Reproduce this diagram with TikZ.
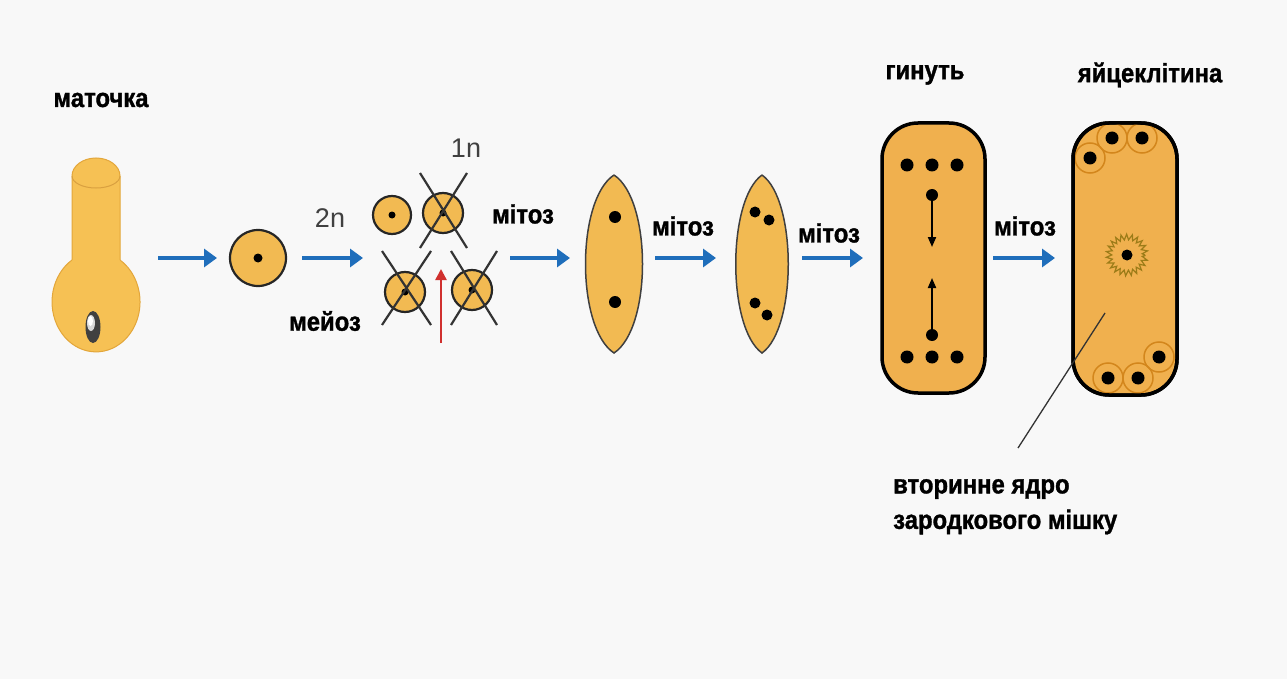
\documentclass[tikz,border=0pt]{standalone}
\usepackage{fontspec}
\usetikzlibrary{arrows.meta,decorations.pathmorphing,shapes.geometric}
\newfontfamily\labfont[BoldFeatures={FakeBold=1.2,FakeStretch=0.9}]{Liberation Sans}
\definecolor{bgcol}{HTML}{F8F8F8}
\definecolor{cellfill}{HTML}{F2BA52}
\definecolor{sacfill}{HTML}{F0B04E}
\definecolor{pistilfill}{HTML}{F6C154}
\definecolor{pistiledge}{HTML}{E3A63A}
\definecolor{rimcol}{HTML}{D9A040}
\definecolor{flowblue}{HTML}{1F6EBB}
\definecolor{redarrow}{HTML}{D0302E}
\definecolor{ringcol}{HTML}{9C7C18}
\definecolor{arccol}{HTML}{D3861C}
\tikzset{
  lbl/.style={font=\labfont\bfseries\fontsize{26.5}{28}\selectfont, text=black, inner sep=0pt},
  ploidy/.style={font=\labfont\fontsize{27}{29}\selectfont, text=black!75, inner sep=0pt},
  flow/.style={draw=flowblue, line width=4pt, -{Triangle[length=13pt,width=18pt]}},
  cellbody/.style={fill=cellfill, draw=black!85, line width=2.2pt},
  nucleus/.style={circle, fill=black, inner sep=0pt, minimum size=#1},
  nucleus/.default=9pt,
  crossline/.style={draw=black!80, line width=2.2pt},
  sacwall/.style={fill=sacfill, draw=black, line width=3.5pt, rounded corners=36pt},
}
\begin{document}
\begin{tikzpicture}[x=1pt,y=-1pt]
\useasboundingbox (0,0) rectangle (1287,679);
\fill[bgcol] (0,0) rectangle (1287,679);

% ---- pistil: ovary and style ----
\fill[pistilfill] (96,302) ellipse[x radius=44, y radius=50];
\draw[pistiledge, line width=1pt] (72,260) arc[start angle=236.9,end angle=-56.9,x radius=44,y radius=50];
\fill[pistilfill] (72,176) -- (72,265) -- (120,265) -- (120,176)
  arc[start angle=0,end angle=-180,x radius=24,y radius=18] -- cycle;
\draw[pistiledge, line width=1pt] (72,260) -- (72,176)
  arc[start angle=180,end angle=360,x radius=24,y radius=18] -- (120,260);
\draw[rimcol, line width=1pt] (72,176) arc[start angle=180,end angle=0,x radius=24,y radius=12];
\node[lbl] (pistil) at (101,100) {маточка};
\node[ellipse, fill=black!75, minimum width=15pt, minimum height=32pt, inner sep=0pt] (ovule) at (93,327) {};
\fill[black!15] (91,323) ellipse[x radius=4pt, y radius=8pt];
\fill[white] (90.5,321) ellipse[x radius=2.5pt, y radius=5pt];

% ---- mother cell ----
\node[circle, cellbody, minimum size=56pt, inner sep=0pt] (mother) at (258,258) {};
\node[nucleus=9pt] at (mother.center) {};

% ---- tetrad ----
\node[circle, cellbody, minimum size=38pt, inner sep=0pt] (t1) at (392,215) {};
\node[circle, cellbody, minimum size=40pt, inner sep=0pt] (t2) at (443,213) {};
\node[circle, cellbody, minimum size=40pt, inner sep=0pt] (t3) at (405,292) {};
\node[circle, cellbody, minimum size=40pt, inner sep=0pt] (t4) at (472,290) {};
\foreach \t in {t1,t2,t3,t4} \node[nucleus=7pt] at (\t.center) {};
\draw[crossline] (420,173) -- (467,248) (467,173) -- (420,248);
\draw[crossline] (382,251) -- (431,325) (431,251) -- (382,325);
\draw[crossline] (451,251) -- (497,325) (497,251) -- (451,325);
\coordinate (redtail) at (441,343);
\coordinate (redhead) at (441,269);
\draw[draw=redarrow, line width=2.4pt, -{Triangle[length=11pt,width=11pt]}] (redtail) -- (redhead);

% ---- spindle-shaped cells ----
\path[fill=cellfill, draw=black!75, line width=1.5pt]
  (614,175) .. controls (652,200) and (652,328) .. (614,353)
            .. controls (576,328) and (576,200) .. (614,175);
\node[nucleus=12pt] (s1a) at (615,217) {};
\node[nucleus=12pt] (s1b) at (615,302) {};
\path[fill=cellfill, draw=black!75, line width=1.5pt]
  (762,175) .. controls (797,200) and (797,328) .. (762,353)
            .. controls (727,328) and (727,200) .. (762,175);
\node[nucleus=11pt] (s2a) at (755,212) {};
\node[nucleus=11pt] (s2b) at (769,220) {};
\node[nucleus=11pt] (s2c) at (755,303) {};
\node[nucleus=11pt] (s2d) at (767,315) {};

% ---- eight-nucleate sac ----
\path[sacwall] (882,123) rectangle (985,393);
\foreach \x in {907,932,957} {
  \node[nucleus=13pt] at (\x,165) {};
  \node[nucleus=13pt] at (\x,357) {};
}
\node[nucleus=12pt] (m1) at (932,195) {};
\node[nucleus=12pt] (m2) at (932,335) {};
\coordinate (m1end) at (932,247);
\coordinate (m2end) at (932,278);
\draw[line width=2pt, -{Triangle[length=10pt,width=8pt]}] (m1) -- (m1end);
\draw[line width=2pt, -{Triangle[length=10pt,width=8pt]}] (m2) -- (m2end);

% ---- mature embryo sac ----
\path[sacwall] (1073,123) rectangle (1177,395);
\begin{scope}
  \clip[rounded corners=36pt] (1073,123) rectangle (1177,395);
  \foreach \p in {(1112,138),(1142,138),(1090,158),(1159,357),(1108,378),(1138,378)}
    \draw[arccol, line width=1.5pt] \p circle[radius=15pt];
\end{scope}
\path[draw=black, line width=3.5pt, rounded corners=36pt] (1073,123) rectangle (1177,395);
\foreach \p in {(1112,138),(1142,138),(1090,158),(1159,357),(1108,378),(1138,378)}
  \node[nucleus=13pt] at \p {};
\draw[ringcol, line width=1.2pt, decoration={zigzag,segment length=5pt,amplitude=2.8pt}, decorate] (1127,255) circle[radius=18pt];
\node[nucleus=11pt] (central) at (1127,255) {};
\coordinate (leadin) at (1105,313);
\coordinate (leadout) at (1018,448);
\draw[black!80, line width=1.3pt] (leadin) -- (leadout);

% ---- flow arrows ----
\coordinate (a1s) at (158,258); \coordinate (a1e) at (217,258);
\coordinate (a2s) at (302,258); \coordinate (a2e) at (363,258);
\coordinate (a3s) at (510,258); \coordinate (a3e) at (570,258);
\coordinate (a4s) at (655,258); \coordinate (a4e) at (716,258);
\coordinate (a5s) at (802,258); \coordinate (a5e) at (863,258);
\coordinate (a6s) at (993,258); \coordinate (a6e) at (1055,258);
\foreach \i in {1,...,6} \draw[flow] (a\i s) -- (a\i e);

% ---- labels ----
\node[ploidy] (two) at (330,218) {2n};
\node[ploidy] (one) at (466,148) {1n};
\node[lbl] (meiosis) at (325,321) {мейоз};
\node[lbl] (mit1) at (523,214) {мітоз};
\node[lbl] (mit2) at (683,226) {мітоз};
\node[lbl] (mit3) at (829,233) {мітоз};
\node[lbl] (mit4) at (1025,226) {мітоз};
\node[lbl] (die) at (925,75) {гинуть};
\node[lbl] (egg) at (1150,75) {яйцеклітина};
\node[lbl, anchor=west] (sec1) at (893,489) {вторинне ядро};
\node[lbl, anchor=west] (sec2) at (893,522) {зародкового мішку};
\end{tikzpicture}
\end{document}
